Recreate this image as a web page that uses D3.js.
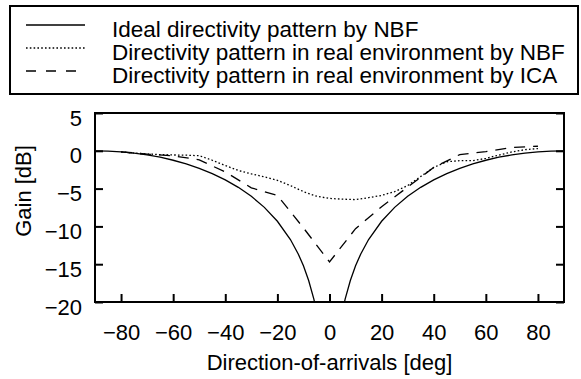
<!DOCTYPE html>
<html>
<head>
<meta charset="utf-8">
<script src="https://cdn.jsdelivr.net/npm/d3@7"></script>
<style>
  html, body { margin: 0; padding: 0; background: #fff; }
  svg { display: block; font-family: "Liberation Sans", Arial, Helvetica, sans-serif; }
</style>
</head>
<body>
<svg id="chart" width="581" height="379"></svg>
<script>
// Direction of arrival (deg) and gain (dB) for each curve
const idealDeg  = [-90, -85, -80, -75, -70, -65, -60, -55, -50, -45, -40, -35, -30, -25, -20, -15, -12, -10, -8, -6, -5, -4, 0,
                   4, 5, 6, 8, 10, 12, 15, 20, 25, 30, 35, 40, 45, 50, 55, 60, 65, 70, 75, 80, 85, 90];
const idealGain = [0.00, -0.03, -0.13, -0.30, -0.54, -0.85, -1.25, -1.74, -2.32, -3.01, -3.84, -4.83, -6.02, -7.48, -9.32, -11.74, -13.64, -15.21, -17.16, -19.62, -21.2, -23.2, null,
                   -23.2, -21.2, -19.62, -17.16, -15.21, -13.64, -11.74, -9.32, -7.48, -6.02, -4.83, -3.84, -3.01, -2.32, -1.74, -1.25, -0.85, -0.54, -0.30, -0.13, -0.03, 0.00];

const realNbfDeg  = [-80, -75, -70, -65, -60, -55, -50, -45, -40, -35, -30, -25, -20, -15, -10, -5, 0,
                     5, 10, 15, 20, 25, 30, 35, 40, 45, 50, 55, 60, 65, 70, 75, 80];
const realNbfGain = [-0.15, -0.30, -0.42, -0.50, -0.55, -0.58, -0.65, -1.25, -1.95, -2.60, -3.05, -3.45, -3.90, -4.60, -5.40, -6.00, -6.30,
                     -6.40, -6.45, -6.20, -5.90, -5.40, -4.60, -3.40, -2.20, -1.45, -1.30, -1.30, -1.00, -0.57, -0.15, 0.15, 0.30];

const icaDeg  = [-80, -70, -60, -50, -40, -30, -20, -10, 0, 10, 20, 30, 40, 50, 60, 70, 80];
const icaGain = [-0.13, -0.44, -0.66, -1.2, -2.8, -4.9, -5.9, -10.2, -14.7, -10.3, -7.4, -4.8, -2.2, -0.5, -0.1, 0.45, 0.6];

const xTicks = [-80, -60, -40, -20, 0, 20, 40, 60, 80];
const yTicks = [5, 0, -5, -10, -15, -20];

const legendLabels = [
  "Ideal directivity pattern by NBF",
  "Directivity pattern in real environment by NBF",
  "Directivity pattern in real environment by ICA"
];
const dashStyles = [null, "1.6,2.2", "11,8"];
const legendDash = [null, "1.6,2.2", "10,10"];

const svg = d3.select("#chart");
svg.append("rect").attr("width", 581).attr("height", 379).attr("fill", "#fff");

const plot = { left: 95, right: 564, top: 113, bottom: 302 };
const x = d3.scaleLinear().domain([-90, 90]).range([plot.left, plot.right]);
const y = d3.scaleLinear().domain([-20, 5]).range([plot.bottom, plot.top]);

svg.append("defs").append("clipPath").attr("id", "plotClip")
  .append("rect")
  .attr("x", plot.left).attr("y", plot.top)
  .attr("width", plot.right - plot.left).attr("height", plot.bottom - plot.top);

const zip = (xs, ys) => xs.map((d, i) => ({ deg: d, gain: ys[i] }));
const series = [zip(idealDeg, idealGain), zip(realNbfDeg, realNbfGain), zip(icaDeg, icaGain)];

const line = d3.line()
  .defined(d => d.gain !== null)
  .x(d => x(d.deg))
  .y(d => y(d.gain));

const curves = svg.append("g").attr("clip-path", "url(#plotClip)");
series.forEach((s, i) => {
  curves.append("path")
    .datum(s)
    .attr("fill", "none")
    .attr("stroke", "#000")
    .attr("stroke-width", 1.3)
    .attr("stroke-dasharray", dashStyles[i])
    .attr("d", line);
});

// Axes: ticks point into the plot area
const fontSize = 22;
const styleAxis = g => {
  g.select(".domain").remove();
  g.selectAll(".tick line").attr("stroke", "#000").attr("stroke-width", 2);
  g.selectAll(".tick text").attr("fill", "#000").attr("font-size", fontSize);
};

svg.append("g")
  .attr("transform", `translate(0,${plot.bottom})`)
  .call(d3.axisBottom(x).tickValues(xTicks).tickSize(-8).tickPadding(22).tickFormat(d3.format("d")))
  .call(styleAxis)
  .attr("font-family", null);

svg.append("g")
  .attr("transform", `translate(${plot.left},0)`)
  .call(d3.axisLeft(y).tickValues(yTicks).tickSize(-8).tickPadding(13).tickFormat(d3.format("d")))
  .call(styleAxis)
  .call(g => g.selectAll(".tick text").attr("dy", "0.55em"))
  .attr("font-family", null);

svg.append("g")
  .attr("transform", `translate(${plot.right},0)`)
  .call(d3.axisRight(y).tickValues(yTicks).tickSize(-8).tickFormat(""))
  .call(styleAxis);

// Plot frame
svg.append("rect")
  .attr("x", plot.left).attr("y", plot.top)
  .attr("width", plot.right - plot.left).attr("height", plot.bottom - plot.top)
  .attr("fill", "none").attr("stroke", "#000").attr("stroke-width", 2);

// Axis titles
svg.append("text")
  .attr("x", (plot.left + plot.right) / 2).attr("y", 370)
  .attr("text-anchor", "middle").attr("font-size", fontSize)
  .text("Direction-of-arrivals [deg]");

svg.append("text")
  .attr("transform", "translate(31,191) rotate(-90)")
  .attr("text-anchor", "middle").attr("font-size", fontSize)
  .text("Gain [dB]");

// Legend
const legend = svg.append("g");
legend.append("rect")
  .attr("x", 10).attr("y", 6).attr("width", 568).attr("height", 88)
  .attr("fill", "#fff").attr("stroke", "#000").attr("stroke-width", 2);

legendLabels.forEach((label, i) => {
  const cy = 25 + i * 23;
  legend.append("line")
    .attr("x1", 26).attr("x2", 85).attr("y1", cy).attr("y2", cy)
    .attr("stroke", "#000").attr("stroke-width", 1.3)
    .attr("stroke-dasharray", legendDash[i]);
  legend.append("text")
    .attr("x", 112).attr("y", cy + 12)
    .attr("font-size", fontSize + 0.5)
    .text(label);
});
</script>
</body>
</html>
